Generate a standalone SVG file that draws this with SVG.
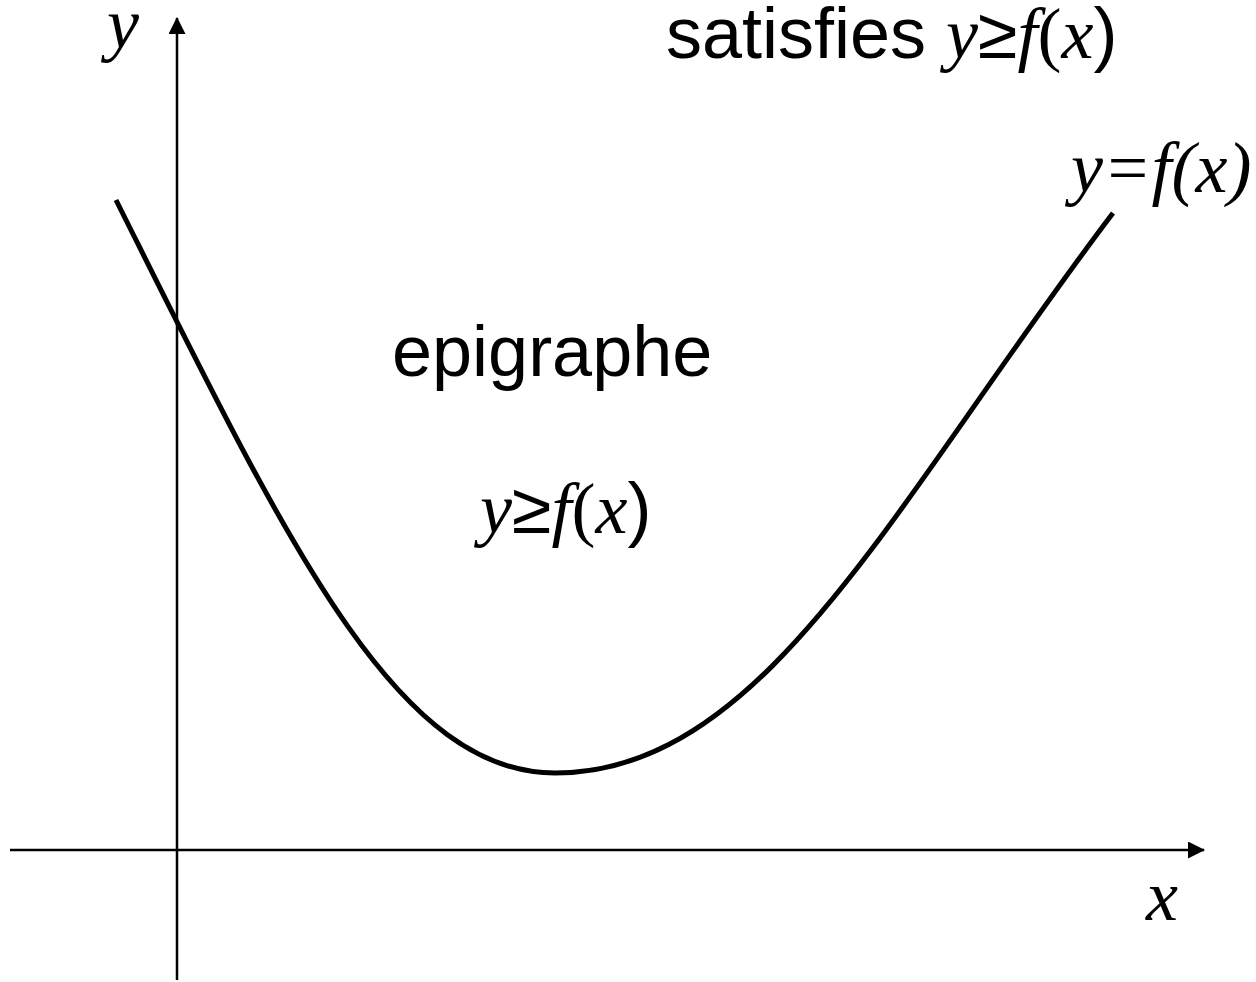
<svg xmlns="http://www.w3.org/2000/svg" width="1256" height="982" viewBox="0 0 1256 982">
<style>
.ax{stroke:#000;stroke-width:2.5;fill:none}
.cv{stroke:#000;stroke-width:5;fill:none}
.sans{font-family:"Liberation Sans",Arial,sans-serif;font-size:72px;fill:#000}
.ser{font-family:"Liberation Serif","Times New Roman",serif;font-size:72px;fill:#000}
.it{font-style:italic}
</style>
<defs>
<marker id="ah" markerWidth="17" markerHeight="17" refX="16" refY="8.5" orient="auto" markerUnits="userSpaceOnUse">
<path d="M0,0 L17,8.5 L0,17 Z" fill="#000"/>
</marker>
</defs>
<rect width="1256" height="982" fill="#fff"/>
<g id="connectors">
<line id="x-axis" class="ax" x1="10" y1="850" x2="1204" y2="850" marker-end="url(#ah)"/>
<line id="y-axis" class="ax" x1="177" y1="980" x2="177" y2="18" marker-end="url(#ah)"/>
<path id="curve" class="cv" d="M116,200 C286,540 395,773 555,773 C765,773 893,503 1113,213"/>
</g>
<g id="label-y"><text class="ser it" x="107" y="48">y</text></g>
<g id="label-x"><text class="ser it" x="1146" y="920">x</text></g>
<g id="label-top"><text x="666" y="58"><tspan class="sans">satisfies </tspan><tspan class="ser it">y</tspan><tspan class="sans">≥</tspan><tspan class="ser it">f</tspan><tspan class="ser">(</tspan><tspan class="ser it">x</tspan><tspan class="sans">)</tspan></text></g>
<g id="label-curve"><text class="ser it" x="1071" y="192">y=f(x)</text></g>
<g id="label-epi"><text class="sans" x="392" y="376">epigraphe</text></g>
<g id="label-ineq"><text x="480" y="533"><tspan class="ser it">y</tspan><tspan class="sans">≥</tspan><tspan class="ser it">f</tspan><tspan class="ser">(</tspan><tspan class="ser it">x</tspan><tspan class="sans">)</tspan></text></g>
</svg>
